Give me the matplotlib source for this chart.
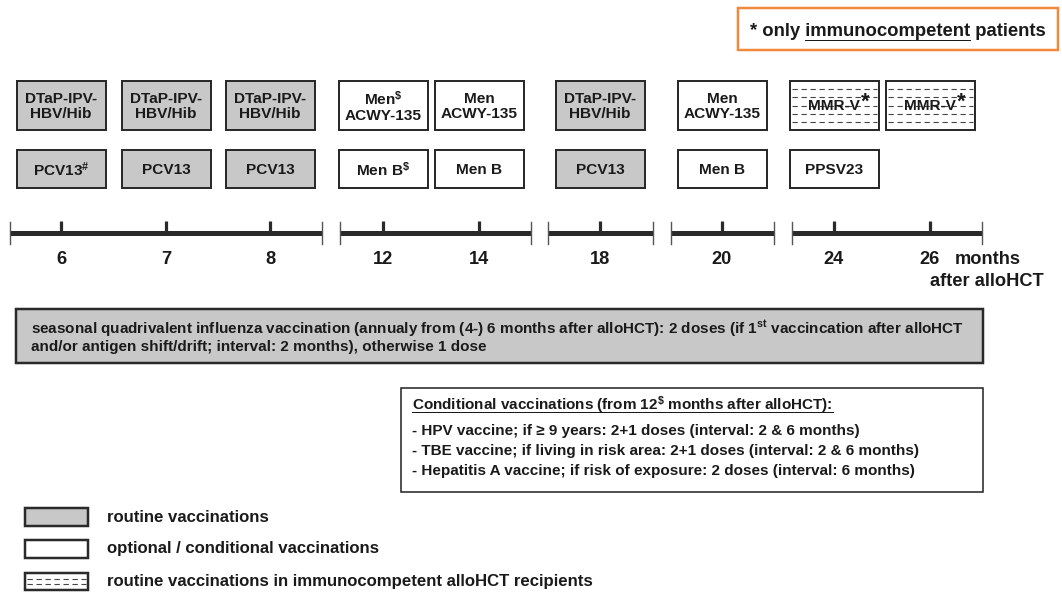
import matplotlib
matplotlib.use('Agg')
import matplotlib.pyplot as plt
from matplotlib.patches import Rectangle

plt.rcParams['font.family'] = ['Liberation Sans', 'DejaVu Sans']
plt.rcParams['font.weight'] = 'bold'
plt.rcParams['mathtext.fontset'] = 'custom'
plt.rcParams['mathtext.rm'] = 'Liberation Sans:bold'
plt.rcParams['mathtext.it'] = 'Liberation Sans:bold'
plt.rcParams['mathtext.bf'] = 'Liberation Sans:bold'
plt.rcParams['mathtext.sf'] = 'Liberation Sans:bold'
plt.rcParams['mathtext.default'] = 'rm'

# ---------------- data ----------------
timeline_months = ['6', '7', '8', '12', '14', '18', '20', '24', '26']
timeline_unit = ['months', 'after alloHCT']

top_row_vaccines = ['DTaP-IPV-\nHBV/Hib', 'DTaP-IPV-\nHBV/Hib', 'DTaP-IPV-\nHBV/Hib',
                    'Men$^{\\$}$\nACWY-135', 'Men\nACWY-135', 'DTaP-IPV-\nHBV/Hib',
                    'Men\nACWY-135', 'MMR-V', 'MMR-V']
top_row_types = ['routine', 'routine', 'routine', 'optional', 'optional', 'routine',
                 'optional', 'immuno', 'immuno']
top_row_star = [False, False, False, False, False, False, False, True, True]

bottom_row_vaccines = ['PCV13$^{\\#}$', 'PCV13', 'PCV13', 'Men B$^{\\$}$', 'Men B',
                       'PCV13', 'Men B', 'PPSV23']
bottom_row_types = ['routine', 'routine', 'routine', 'optional', 'optional', 'routine',
                    'optional', 'optional']

legend_types = ['routine', 'optional', 'immuno']
legend_labels = ['routine vaccinations', 'optional / conditional vaccinations',
                 'routine vaccinations in immunocompetent alloHCT recipients']

influenza_lines = ['seasonal quadrivalent influenza vaccination (annualy from (4-) 6 months after '
                   'alloHCT): 2 doses (if 1$^{st}$ vaccincation after alloHCT',
                   'and/or antigen shift/drift; interval: 2 months), otherwise 1 dose']

conditional_header = 'Conditional vaccinations (from 12$^{\\$}$ months after alloHCT):'
conditional_items = ['- HPV vaccine; if \u2265 9 years: 2+1 doses (interval: 2 & 6 months)',
                     '- TBE vaccine; if living in risk area: 2+1 doses (interval: 2 & 6 months)',
                     '- Hepatitis A vaccine; if risk of exposure: 2 doses (interval: 6 months)']

note_prefix = '* only '
note_word = 'immunocompetent'
note_suffix = ' patients'

# ---------------- layout / style ----------------
W, H = 1062, 592
tick_x = [61, 166, 270, 383, 479, 600, 722, 834, 930]
segment_x = [(10, 322), (340, 531), (548, 653), (671, 774), (792, 982)]
line_y = 233
box_w = 89
top_y, top_h = 81, 49
bot_y, bot_h = 150, 38
fills = {'routine': '#c8c8c8', 'optional': 'white', 'immuno': 'white'}
edge = '#2a2a2a'
PX = 0.72  # points per pixel at dpi 100

fig = plt.figure(figsize=(W / 100, H / 100), dpi=100)
ax = fig.add_axes([0, 0, 1, 1])
ax.set_xlim(0, W)
ax.set_ylim(H, 0)
ax.axis('off')
renderer = fig.canvas.get_renderer()


def text_w(s, fs):
    t = ax.text(0, 0, s, fontsize=fs)
    w = t.get_window_extent(renderer).width
    t.remove()
    return w


def fit_fs(s, target, fs0=10.0):
    return fs0 * target / text_w(s, fs0)


def dashed_fill(x0, y0, w, h, n):
    for k in range(1, n + 1):
        yy = y0 + h * k / (n + 1)
        ax.plot([x0 + 2, x0 + w - 2], [yy, yy], color='#444444', lw=0.8,
                linestyle=(0, (4.8, 3.3)), zorder=3, solid_capstyle='butt',
                dash_capstyle='butt')


def draw_box(x0, y0, w, h, kind, lw=2.0):
    ax.add_patch(Rectangle((x0, y0), w, h, facecolor=fills[kind], edgecolor=edge,
                           lw=lw * PX, joinstyle='miter', zorder=2))
    if kind == 'immuno':
        dashed_fill(x0, y0, w, h, 5 if h > 30 else 2)


box_fs = fit_fs('ACWY-135', 77)

# top row
for x, lab, kind, star in zip(tick_x, top_row_vaccines, top_row_types, top_row_star):
    x0 = x - box_w / 2
    draw_box(x0, top_y, box_w, top_h, kind)
    t = ax.text(x, top_y + top_h / 2 + 1, lab, fontsize=box_fs, ha='center', va='center',
                multialignment='center', linespacing=1.1, zorder=4, color='#1a1a1a')
    if star:
        bb = t.get_window_extent(renderer)
        xs = ax.transData.inverted().transform((bb.x1, 0))[0]
        ax.text(xs + 0.5, top_y + top_h / 2 - 3, '*', fontsize=box_fs * 1.4, ha='left',
                va='center', zorder=4, color='#1a1a1a')

# bottom row
for x, lab, kind in zip(tick_x, bottom_row_vaccines, bottom_row_types):
    x0 = x - box_w / 2
    draw_box(x0, bot_y, box_w, bot_h, kind)
    ax.text(x, bot_y + bot_h / 2 + 0.5, lab, fontsize=box_fs, ha='center', va='center',
            zorder=4, color='#1a1a1a')

# timeline
for a, b in segment_x:
    ax.plot([a, b], [line_y, line_y], color=edge, lw=5 * PX, solid_capstyle='butt', zorder=2)
    for e in (a, b):
        ax.plot([e, e], [line_y - 11, line_y + 11], color='#555555', lw=1.4 * PX, zorder=2)
for x in tick_x:
    ax.plot([x, x], [line_y - 12, line_y], color=edge, lw=3.2 * PX, solid_capstyle='butt', zorder=2)

tl_fs = fit_fs(timeline_unit[1], 113)
for x, m in zip(tick_x, timeline_months):
    ax.text(x, 259, m, fontsize=tl_fs, ha='center', va='center', color='#1a1a1a')
ax.text(955, 259, timeline_unit[0], fontsize=tl_fs, ha='left', va='center', color='#1a1a1a')
ax.text(930, 282, timeline_unit[1], fontsize=tl_fs, ha='left', va='center', color='#1a1a1a')

# influenza box
ax.add_patch(Rectangle((16, 309), 967, 54, facecolor='#c8c8c8', edgecolor=edge,
                       lw=2.5 * PX, joinstyle='miter', zorder=2))
flu_fs = fit_fs(influenza_lines[0], 931)
ax.text(31, 329, influenza_lines[0], fontsize=flu_fs, ha='left', va='center', zorder=4,
        color='#1a1a1a')
ax.text(31, 347, influenza_lines[1], fontsize=flu_fs, ha='left', va='center', zorder=4,
        color='#1a1a1a')

# conditional box
ax.add_patch(Rectangle((401, 388), 582, 104, facecolor='white', edgecolor=edge,
                       lw=1.6 * PX, joinstyle='miter', zorder=2))
cond_fs = fit_fs(conditional_items[1], 506)
th = ax.text(412, 405, conditional_header, fontsize=cond_fs, ha='left', va='center', zorder=4,
             color='#1a1a1a')
bb = th.get_window_extent(renderer)
ux0, _ = ax.transData.inverted().transform((bb.x0, 0))
ux1, _ = ax.transData.inverted().transform((bb.x1, 0))
ax.plot([ux0, ux1], [411.5, 411.5], color='#1a1a1a', lw=1.0 * PX, zorder=4)
for yy, s in zip([431, 451, 471], conditional_items):
    ax.text(412, yy, s, fontsize=cond_fs, ha='left', va='center', zorder=4, color='#1a1a1a')

# note box (orange)
ax.add_patch(Rectangle((738, 8), 320, 42, facecolor='white', edgecolor='#f0883e',
                       lw=2.5 * PX, joinstyle='miter', zorder=2))
full_note = note_prefix + note_word + note_suffix
note_fs = fit_fs(full_note, 298)
ax.text(750, 31, full_note, fontsize=note_fs, ha='left', va='center', zorder=4, color='#1a1a1a')
w_pre_word = text_w(note_prefix + note_word, note_fs)
w_word = text_w(note_word, note_fs)
ax.plot([750 + w_pre_word - w_word, 750 + w_pre_word], [40, 40], color='#1a1a1a',
        lw=1.0 * PX, zorder=4)

# legend
leg_fs = fit_fs(legend_labels[0], 163)
for (y0, h), kind, lab in zip([(508, 18), (540, 18), (573, 17)], legend_types, legend_labels):
    draw_box(25, y0, 63, h, kind, lw=2.5)
    ax.text(107, y0 + h / 2, lab, fontsize=leg_fs, ha='left', va='center', color='#1a1a1a')

fig.savefig('out.png', dpi=100)
